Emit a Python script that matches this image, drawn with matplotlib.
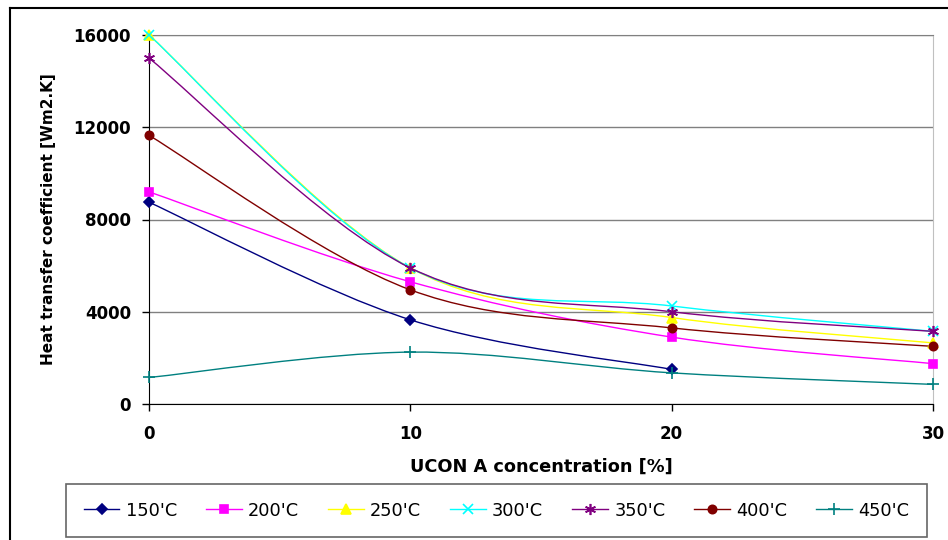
import matplotlib
matplotlib.use("Agg")
from matplotlib import pyplot as plt
from matplotlib.path import Path
from matplotlib.patches import PathPatch
from matplotlib.lines import Line2D

plt.rcParams['font.family'] = ['DejaVu Sans']

# UCON A concentration [%]
conc = [0, 10, 20, 30]
labels = ["150'C", "200'C", "250'C", "300'C", "350'C", "400'C", "450'C"]
h150 = [8750, 3650, 1500, None]
h200 = [9200, 5300, 2900, 1750]
h250 = [16000, 5900, 3750, 2650]
h300 = [16000, 5900, 4250, 3150]
h350 = [15000, 5900, 4000, 3150]
h400 = [11650, 4950, 3300, 2500]
h450 = [1150, 2250, 1350, 850]
series = [h150, h200, h250, h300, h350, h400, h450]

colors = ['#000080', '#FF00FF', '#FFFF00', '#00FFFF', '#800080', '#800000', '#008080']
markers = ['D', 's', '^', 'x', (6, 2, 0), 'o', '+']
msizes = [5, 6, 7, 7, 8, 6, 8]


def smooth_path(xs, ys):
    # excel-like smoothed line: catmull-rom segments as cubic bezier
    pts = list(zip(xs, ys))
    verts = [pts[0]]
    codes = [Path.MOVETO]
    n = len(pts)
    for i in range(n - 1):
        p0 = pts[i - 1] if i > 0 else pts[i]
        p1 = pts[i]
        p2 = pts[i + 1]
        p3 = pts[i + 2] if i + 2 < n else pts[i + 1]
        c1 = (p1[0] + (p2[0] - p0[0]) / 6, p1[1] + (p2[1] - p0[1]) / 6)
        c2 = (p2[0] - (p3[0] - p1[0]) / 6, p2[1] - (p3[1] - p1[1]) / 6)
        verts += [c1, c2, p2]
        codes += [Path.CURVE4] * 3
    return Path(verts, codes)


fig = plt.figure(figsize=(9.48, 5.4), dpi=100)
ax = fig.add_axes([149 / 948, 1 - 404 / 540, 784 / 948, 369 / 540])

for vals, c, m, ms in zip(series, colors, markers, msizes):
    xs = [x for x, v in zip(conc, vals) if v is not None]
    ys = [v for v in vals if v is not None]
    ax.add_patch(PathPatch(smooth_path(xs, ys), facecolor='none',
                           edgecolor=c, lw=1.0, clip_on=False, zorder=3))
    ax.plot(xs, ys, ls='none', marker=m, color=c, ms=ms, mew=1.2,
            clip_on=False, zorder=4)

ax.set_xlim(0, 30)
ax.set_ylim(0, 16000)
ax.set_xticks([0, 10, 20, 30])
ax.set_yticks([0, 4000, 8000, 12000, 16000])
ax.yaxis.grid(True, color='#808080', lw=1)
ax.set_axisbelow(True)
ax.tick_params(axis='both', direction='out', length=5, width=1, color='black',
               labelsize=12)
ax.tick_params(axis='x', pad=10)
ax.tick_params(axis='y', pad=8)
for t in ax.get_xticklabels() + ax.get_yticklabels():
    t.set_fontweight('bold')

ax.spines['left'].set_color('black')
ax.spines['bottom'].set_color('black')
ax.spines['top'].set_color('#808080')
ax.spines['right'].set_color('#c0c0c0')

ax.set_xlabel('UCON A concentration [%]', fontsize=12.8, fontweight='bold')
ax.set_ylabel('Heat transfer coefficient [Wm2.K]', fontsize=11, fontweight='bold')
ax.xaxis.set_label_coords(0.5, -0.146)
ax.yaxis.set_label_coords(-0.118, 0.5)

handles = [Line2D([], [], color=c, marker=m, ms=ms, mew=1.2, lw=1.0)
           for c, m, ms in zip(colors, markers, msizes)]
leg = fig.legend(handles, labels, ncol=7, loc='center', mode='expand',
                 bbox_to_anchor=(66 / 948, 1 - 536 / 540, 861 / 948, 51 / 540),
                 fontsize=12.8, frameon=True, fancybox=False, handlelength=2.0,
                 handletextpad=0.35, borderaxespad=0, borderpad=1.0)
leg.get_frame().set_edgecolor('#404040')
leg.get_frame().set_linewidth(1.2)

# outer chart frame
fig.add_artist(Line2D([10 / 948, 10 / 948], [0, 1 - 8 / 540], color='black', lw=1.5))
fig.add_artist(Line2D([10 / 948, 1], [1 - 8 / 540, 1 - 8 / 540], color='black', lw=1.5))

fig.savefig('out.png', dpi=100)
